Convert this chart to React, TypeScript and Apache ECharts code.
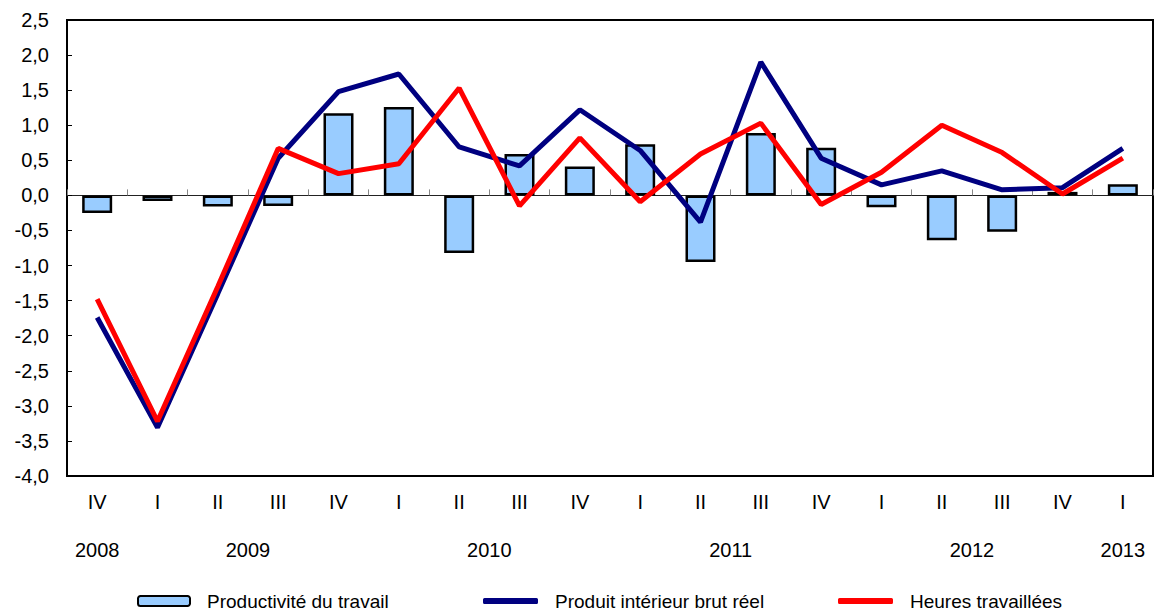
import React, { useEffect, useRef } from "react";
import * as echarts from "echarts";

const quarters = ["IV", "I", "II", "III", "IV", "I", "II", "III", "IV", "I", "II", "III", "IV", "I", "II", "III", "IV", "I"];
const yearLabels = ["2008", "2009", "2010", "2011", "2012", "2013"];
const yearPositions = [0.5, 3, 7, 11, 15, 17.5];

const productivite = [-0.25, -0.08, -0.16, -0.15, 1.17, 1.26, -0.82, 0.59, 0.41, 0.73, -0.95, 0.89, 0.68, -0.17, -0.64, -0.52, 0.05, 0.16];
const pib = [-1.74, -3.31, -1.4, 0.53, 1.48, 1.73, 0.69, 0.42, 1.22, 0.64, -0.38, 1.9, 0.53, 0.15, 0.35, 0.08, 0.11, 0.67];
const heures = [-1.48, -3.22, -1.3, 0.67, 0.31, 0.45, 1.53, -0.15, 0.82, -0.09, 0.59, 1.03, -0.13, 0.33, 1.0, 0.61, 0.02, 0.53];

const names = ["Productivité du travail", "Produit intérieur brut réel", "Heures travaillées"];
const yTicks = { min: -4, max: 2.5, interval: 0.5 };

const FONT = "Liberation Sans, Arial, Helvetica, sans-serif";
const AXIS_FS = 20;

export default function App() {
  const ref = useRef<HTMLDivElement>(null);
  useEffect(() => {
    if (!ref.current) return;
    const chart = echarts.init(ref.current, null, { renderer: "svg" });
    const legendText = { fontSize: 19, lineHeight: 20, color: "#000", fontFamily: FONT, padding: [0, 0, 0, 12] };
    const legendTop = 591;
    chart.setOption({
      animation: false,
      backgroundColor: "#fff",
      grid: {
        left: 67,
        right: 1,
        top: 20,
        bottom: 137,
        show: true,
        borderColor: "#000",
        borderWidth: 2,
        containLabel: false,
      },
      legend: [
        {
          data: [names[0]],
          left: 137,
          top: legendTop,
          padding: 0,
          itemWidth: 52,
          itemHeight: 10,
          textStyle: legendText,
        },
        {
          data: [{ name: names[1], icon: "roundRect" }],
          left: 483,
          top: legendTop,
          padding: 0,
          itemWidth: 55,
          itemHeight: 6,
          textStyle: legendText,
        },
        {
          data: [{ name: names[2], icon: "roundRect" }],
          left: 838,
          top: legendTop,
          padding: 0,
          itemWidth: 55,
          itemHeight: 6,
          textStyle: legendText,
        },
      ],
      xAxis: [
        {
          type: "category",
          data: quarters,
          axisLine: { onZero: true, lineStyle: { color: "#222", width: 1 } },
          axisTick: { show: true, inside: true, length: 6, lineStyle: { color: "#888" } },
          axisLabel: { show: false },
          splitLine: { show: false },
        },
        {
          type: "category",
          data: quarters,
          position: "bottom",
          axisLine: { show: false, onZero: false },
          axisTick: { show: false },
          axisLabel: { show: true, margin: 16, fontSize: AXIS_FS, color: "#000", fontFamily: FONT },
          splitLine: { show: false },
        },
        {
          type: "value",
          min: 0,
          max: 18,
          interval: 0.5,
          position: "bottom",
          axisLine: { show: false, onZero: false },
          axisTick: { show: false },
          splitLine: { show: false },
          axisLabel: {
            show: true,
            margin: 64,
            fontSize: AXIS_FS,
            color: "#000",
            fontFamily: FONT,
            formatter: (v: number) => {
              const i = yearPositions.findIndex((p) => Math.abs(p - v) < 1e-6);
              return i >= 0 ? yearLabels[i] : "";
            },
          },
        },
      ],
      yAxis: {
        type: "value",
        min: yTicks.min,
        max: yTicks.max,
        interval: yTicks.interval,
        axisLine: { show: false, onZero: false },
        axisTick: { show: true, inside: true, length: 5, lineStyle: { color: "#000", width: 1 } },
        splitLine: { show: false },
        axisLabel: {
          margin: 18,
          fontSize: AXIS_FS,
          color: "#000",
          fontFamily: FONT,
          formatter: (v: number) => v.toFixed(1).replace(".", ","),
        },
      },
      series: [
        {
          name: names[0],
          type: "bar",
          xAxisIndex: 0,
          data: productivite,
          barWidth: 30,
          itemStyle: { color: "#99CCFF", borderColor: "#000", borderWidth: 2.5 },
          z: 2,
        },
        {
          name: names[1],
          type: "line",
          xAxisIndex: 0,
          data: pib,
          symbol: "none",
          lineStyle: { color: "#000080", width: 5 },
          itemStyle: { color: "#000080" },
          z: 3,
        },
        {
          name: names[2],
          type: "line",
          xAxisIndex: 0,
          data: heures,
          symbol: "none",
          lineStyle: { color: "#FF0000", width: 5 },
          itemStyle: { color: "#FF0000" },
          z: 4,
        },
      ],
    });
    return () => chart.dispose();
  }, []);
  return <div ref={ref} style={{ width: 1156, height: 613, position: "absolute", left: 0, top: 0 }} />;
}
